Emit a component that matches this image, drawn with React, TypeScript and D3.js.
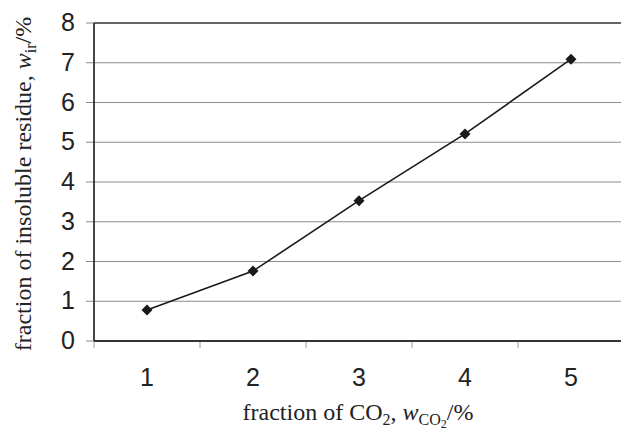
import React from "react";
import * as d3 from "d3";

const categories = ["1", "2", "3", "4", "5"];
const values = [0.78, 1.76, 3.53, 5.21, 7.09];
const yTicks = [0, 1, 2, 3, 4, 5, 6, 7, 8];

const W = 621;
const H = 430;
const left = 94;
const top = 23;
const bottom = 341;
const right = 624;

export default function App() {
  const x = d3.scaleBand<string>().domain(categories).range([left, right]).padding(0);
  const y = d3.scaleLinear().domain([0, 8]).range([bottom, top]);
  const line = d3
    .line<number>()
    .x((_, i) => (x(categories[i]) as number) + x.bandwidth() / 2)
    .y((d) => y(d));
  const boundaries = [...categories.map((c) => x(c) as number), right];
  const sans = "'Liberation Sans', Arial, sans-serif";
  const serif = "'Liberation Serif', 'Times New Roman', serif";
  const r = 5.5;
  return (
    <svg
      width={W}
      height={H}
      viewBox={`0 0 ${W} ${H}`}
      style={{ position: "absolute", left: 0, top: 0, background: "#fff" }}
    >
      <rect x={0} y={0} width={W} height={H} fill="#fff" />
      {yTicks.map((t) => (
        <g key={t}>
          {t > 0 && t < 8 && (
            <line x1={left} x2={right} y1={y(t)} y2={y(t)} stroke="#8c8c8c" strokeWidth={1.2} />
          )}
          <line x1={left - 8} x2={left} y1={y(t)} y2={y(t)} stroke="#8c8c8c" strokeWidth={1} />
          <text
            x={left - 19}
            y={y(t) - 1}
            textAnchor="end"
            dominantBaseline="central"
            fontFamily={sans}
            fontSize={25}
            fill="#222"
          >
            {t}
          </text>
        </g>
      ))}
      <line x1={left} x2={right} y1={top} y2={top} stroke="#333" strokeWidth={1.6} />
      {boundaries.map((b, i) => (
        <line key={i} x1={b} x2={b} y1={bottom} y2={bottom + 7} stroke="#9a9a9a" strokeWidth={1} />
      ))}
      <line x1={left} x2={right} y1={bottom} y2={bottom} stroke="#333" strokeWidth={1.8} />
      <line x1={left} x2={left} y1={top} y2={bottom} stroke="#333" strokeWidth={1.8} />
      {categories.map((c) => (
        <text
          key={c}
          x={(x(c) as number) + x.bandwidth() / 2}
          y={377}
          textAnchor="middle"
          dominantBaseline="central"
          fontFamily={sans}
          fontSize={25}
          fill="#222"
        >
          {c}
        </text>
      ))}
      <path d={line(values) || ""} fill="none" stroke="#1a1a1a" strokeWidth={1.6} />
      {values.map((v, i) => {
        const cx = (x(categories[i]) as number) + x.bandwidth() / 2;
        const cy = y(v);
        return (
          <path
            key={i}
            d={`M${cx},${cy - r}L${cx + r},${cy}L${cx},${cy + r}L${cx - r},${cy}Z`}
            fill="#1a1a1a"
          />
        );
      })}
      <text
        transform={`translate(31,184) rotate(-90)`}
        textAnchor="middle"
        fontFamily={serif}
        fontSize={24}
        fill="#222"
      >
        fraction of insoluble residue,{" "}
        <tspan fontStyle="italic">w</tspan>
        <tspan fontSize={16} dy={5}>ir</tspan>
        <tspan dy={-5}>/%</tspan>
      </text>
      <text x={358} y={420} textAnchor="middle" fontFamily={serif} fontSize={24} fill="#222">
        fraction of CO<tspan fontSize={16} dy={5}>2</tspan>
        <tspan dy={-5}>, </tspan>
        <tspan fontStyle="italic">w</tspan>
        <tspan fontSize={16} dy={5}>CO</tspan>
        <tspan fontSize={12} dy={3}>2</tspan>
        <tspan dy={-8}>/%</tspan>
      </text>
    </svg>
  );
}
